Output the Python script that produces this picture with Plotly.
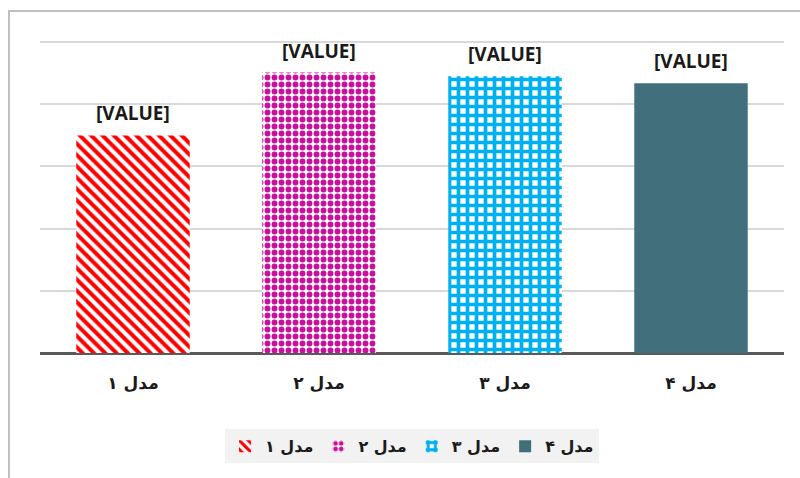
import plotly.graph_objects as go

categories = ["مدل ۱", "مدل ۲", "مدل ۳", "مدل ۴"]
values = [3.5, 4.51, 4.45, 4.34]
label_text = ["[VALUE]", "[VALUE]", "[VALUE]", "[VALUE]"]
colors = ["#FF0000", "#C8109C", "#00B0F0", "#416F7C"]
shapes_pat = ["\\", ".", "+", ""]
pat_sizes = [8, 7, 9, 8]
pat_solid = [0.5, 0.55, 0.65, 0.3]

fig = go.Figure()
for i, cat in enumerate(categories):
    if shapes_pat[i]:
        marker = dict(color=colors[i],
                      pattern=dict(shape=shapes_pat[i], fgcolor=colors[i], bgcolor="white",
                                   size=pat_sizes[i], solidity=pat_solid[i], fillmode="replace",
                                   fgopacity=1),
                      line=dict(width=0))
    else:
        marker = dict(color=colors[i], line=dict(width=0))
    fig.add_trace(go.Bar(x=[cat], y=[values[i]], name=cat, marker=marker, width=0.61,
                         offset=-0.305, hoverinfo="skip"))

for i, cat in enumerate(categories):
    fig.add_annotation(x=cat, y=values[i], text="<b>" + label_text[i] + "</b>", showarrow=False,
                       yanchor="bottom", yshift=7, xref="x", yref="y",
                       font=dict(family="Open Sans", size=19, color="#1a1a1a"))

# plot area: x 40..784, baseline y=353, 62.2 px per unit
fig.update_layout(
    width=800, height=478,
    margin=dict(l=40, r=16, t=39, b=125, autoexpand=False),
    paper_bgcolor="white", plot_bgcolor="white",
    barmode="overlay",
    showlegend=True,
    legend=dict(orientation="h", x=0.5, xanchor="center", y=-0.297, yanchor="middle",
                bgcolor="#F2F2F2", font=dict(family="DejaVu Sans", size=16, color="#1a1a1a",
                                             weight="bold"),
                itemwidth=30, traceorder="normal"),
    xaxis=dict(showgrid=False, showline=False, ticks="", zeroline=False, automargin=False,
               tickfont=dict(family="DejaVu Sans", size=17, color="#1a1a1a", weight="bold"),
               ticklabelstandoff=18, fixedrange=True),
    yaxis=dict(range=[0, 5.05], dtick=1, showgrid=True, gridcolor="#D9D9D9", gridwidth=1.5,
               showticklabels=False, zeroline=True, zerolinecolor="#595959", zerolinewidth=2.5,
               showline=False, ticks="", fixedrange=True, automargin=False),
    shapes=[dict(type="rect", xref="paper", yref="paper",
                 x0=(9 - 40) / 744, x1=1.1, y0=-0.6, y1=(353 - 11) / 314,
                 line=dict(color="#BFBFBF", width=2), fillcolor="rgba(0,0,0,0)", layer="below")],
)

fig.write_html("out.html", config={"displayModeBar": False},
               post_script="document.body.style.margin='0';document.body.style.overflow='hidden';")
